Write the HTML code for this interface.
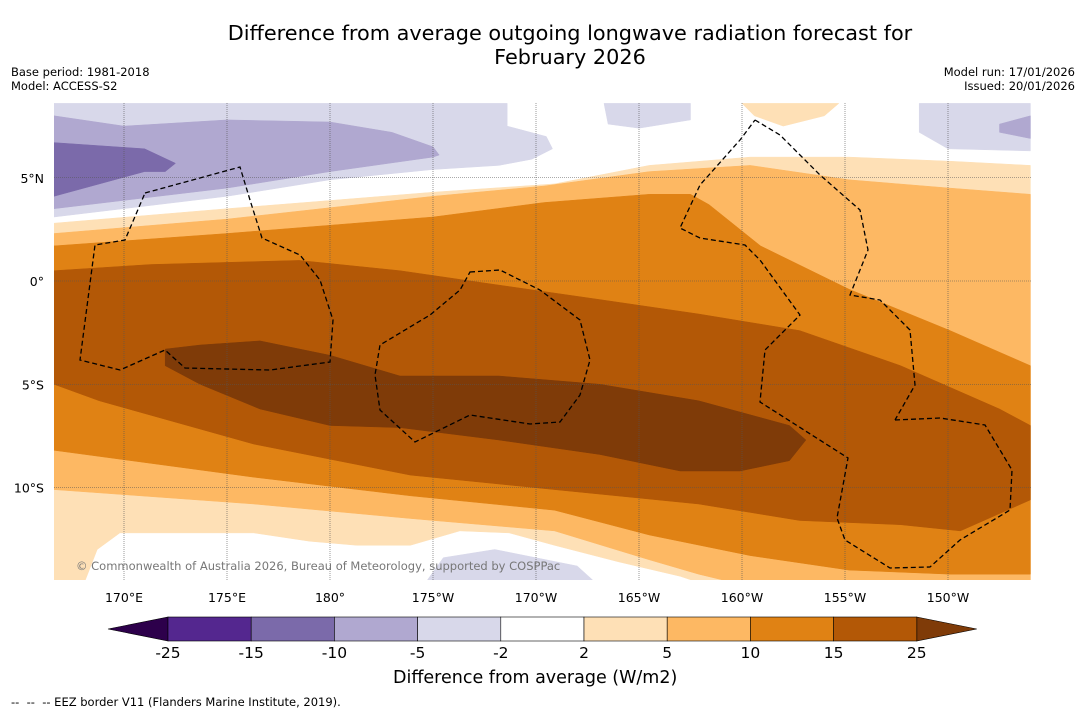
<!DOCTYPE html>
<html><head><meta charset="utf-8">
<style>
body{margin:0;background:#fff;font-family:"DejaVu Sans","Liberation Sans",sans-serif;}
#wrap{position:relative;width:1085px;height:713px;overflow:hidden;background:#fff}
.t{position:absolute;white-space:nowrap;color:#000}
svg text{font-family:"DejaVu Sans","Liberation Sans",sans-serif}
</style></head><body>
<div id="wrap">
<div class="t" style="left:0;width:1140px;top:21px;text-align:center;font-size:20.8px;line-height:24px">Difference from average outgoing longwave radiation forecast for<br>February 2026</div>
<div class="t" style="left:11px;top:65px;font-size:11.5px;line-height:14px">Base period: 1981-2018<br>Model: ACCESS-S2</div>
<div class="t" style="right:10px;top:65px;font-size:11.5px;line-height:14px;text-align:right">Model run: 17/01/2026<br>Issued: 20/01/2026</div>
<svg id="svg" width="1085" height="713" style="position:absolute;left:0;top:0"></svg>
<div class="t" style="left:393px;top:668px;font-size:17.5px">Difference from average (W/m2)</div>
<div class="t" style="left:11px;top:695px;font-size:11.5px">-- &nbsp;-- &nbsp;-- EEZ border V11 (Flanders Marine Institute, 2019).</div>
</div>
<script>
const lonTicks=[170,175,180,185,190,195,200,205,210];
const lonLabels=["170°E","175°E","180°","175°W","170°W","165°W","160°W","155°W","150°W"];
const latTicks=[5,0,-5,-10];
const latLabels=["5°N","0°","5°S","10°S"];
const levels=[-25,-15,-10,-5,-2,2,5,10,15,25];
const colors=["#54278f","#7b6aaa","#b0a8d0","#d8d8ea","#ffffff","#fee0b6","#fdb863","#e08214","#b35806"];
const extLow="#2d004b", extHigh="#7f3b08";
// contour boundaries [lon(0-360), lat]
const U2=[[166.6,2.8],[175.0,3.5],[180.0,3.9],[185.0,4.3],[190.9,4.7],[195.5,5.6],[200.4,6.0],[205.2,6.0],[210.1,5.8],[214,5.6]];
const L2=[[166.6,-14.8],[168.0,-14.8],[168.7,-13.0],[169.8,-12.2],[176.3,-12.2],[179,-12.6],[181.3,-12.8],[183.9,-12.8],[186.3,-12.1],[188.7,-12.2],[190.9,-12.8],[194,-13.6],[197,-14.3],[198.5,-14.8],[214,-14.8]];
const U5=[[166.6,2.3],[175.0,3.0],[185.0,4.1],[190.4,4.6],[195.5,5.3],[200.4,5.6],[205.2,4.9],[210.1,4.5],[214,4.2]];
const L5=[[166.6,-10.1],[176.3,-10.8],[183.9,-11.5],[190.9,-12.1],[195.5,-13.5],[197.9,-14.2],[200.4,-14.8],[214,-14.8]];
const U10=[[166.6,1.7],[175.0,2.3],[185.0,3.1],[190.4,3.8],[195.5,4.2],[197.5,4.2],[198.4,3.7],[200.9,1.7],[205.2,-0.4],[210.1,-2.4],[214,-4.1]];
const L10=[[166.6,-8.2],[176.3,-9.5],[183.9,-10.4],[190.9,-11.1],[195.5,-12.3],[200.4,-13.3],[205.2,-14.0],[210.1,-14.2],[214,-14.2]];
const U15=[[166.6,0.5],[171.3,0.8],[178.5,1.0],[183.4,0.5],[188.2,-0.2],[193.1,-0.9],[197.9,-1.6],[202.8,-2.4],[207.7,-4.1],[212.5,-6.2],[214,-7.0]];
const L15=[[166.6,-5.0],[168.8,-5.8],[176.3,-7.9],[183.9,-9.4],[190.9,-10.1],[197.9,-10.8],[202.8,-11.6],[207.7,-11.8],[210.6,-12.1],[214,-10.6]];
const C25=[[172.0,-3.3],[173.7,-3.1],[176.6,-2.9],[180.0,-3.6],[183.4,-4.6],[188.2,-4.6],[193.1,-5.0],[197.9,-5.8],[202.3,-7.0],[203.1,-7.7],[202.3,-8.7],[199.9,-9.2],[197.0,-9.2],[193.1,-8.4],[188.2,-7.7],[183.4,-7.1],[180.0,-7.0],[176.6,-6.2],[173.7,-5.0],[172.0,-4.1]];
const P2=[[166.6,8.6],[188.6,8.6],[188.6,7.5],[190.5,7.0],[190.8,6.4],[189.8,5.9],[188.2,5.6],[185.0,5.4],[180.0,4.9],[175.0,4.1],[166.6,3.1]];
const P5=[[166.6,8.0],[170,7.5],[175,7.8],[180,7.7],[183,7.2],[185,6.5],[185.3,6.1],[185,6.0],[180,5.3],[175,4.5],[166.6,3.5]];
const P10=[[166.6,6.7],[171,6.4],[172.5,5.7],[172,5.3],[171,5.3],[166.6,4.1]];
const PB1=[[193.3,8.6],[197.5,8.6],[197.5,7.8],[195,7.4],[193.5,7.6]];
const PB2=[[208.6,8.6],[214,8.6],[214,6.3],[210,6.4],[208.6,7.2]];
const PB3=[[212.5,7.6],[214,8.0],[214,6.9],[212.5,7.2]];
const PB4=[[184.5,-14.8],[193.1,-14.8],[192,-13.8],[188,-13.0],[185.5,-13.4]];
const OB1=[[200.0,8.6],[204.7,8.6],[204.0,8.0],[202,7.5],[200.6,8.0]];

const X0=54,X1=1031,Y0=103,Y1=580;
const xs=lon=>124+(lon-170)*20.6;
const ys=lat=>281-lat*20.65;
const NS="http://www.w3.org/2000/svg";
const svg=document.getElementById('svg');
function mk(tag,attrs,parent){const e=document.createElementNS(NS,tag);for(const k in attrs)e.setAttribute(k,attrs[k]);(parent||svg).appendChild(e);return e;}
const defs=mk('defs',{});
const cp=mk('clipPath',{id:'mapclip'},defs);
mk('rect',{x:X0,y:Y0,width:X1-X0,height:Y1-Y0},cp);
const g=mk('g',{'clip-path':'url(#mapclip)'});


mk('rect',{x:X0,y:Y0,width:X1-X0,height:Y1-Y0,fill:'#fff'},g);
function poly(pts,fill,name){
  const d=pts.map((p,i)=>(i?'L':'M')+xs(p[0]).toFixed(1)+','+ys(p[1]).toFixed(1)).join('')+'Z';
  const e=mk('path',{d:d,fill:fill,stroke:fill,'stroke-width':0.5,'stroke-linejoin':'round'},g);
  
  
}
const rev=a=>a.slice().reverse();
poly(U2.concat(rev(L2)),colors[5],'band-2-5');
poly(U5.concat(rev(L5)),colors[6],'band-5-10');
poly(OB1,colors[5],'band-2-5-top');
poly(U10.concat(rev(L10)),colors[7],'band-10-15');
poly(U15.concat(rev(L15)),colors[8],'band-15-25');
poly(C25,extHigh,'band-over-25');
poly(P2,colors[3],'band-neg2-neg5');
poly(P5,colors[2],'band-neg5-neg10');
poly(P10,colors[1],'band-neg10-neg15');
poly(PB1,colors[3],'band-neg2-blob-mid');
poly(PB2,colors[3],'band-neg2-blob-right');
poly(PB3,colors[2],'band-neg5-blob-right');
poly(PB4,colors[3],'band-neg2-blob-bottom');
lonTicks.forEach((l,i)=>{
  const e=mk('line',{x1:xs(l),x2:xs(l),y1:Y0,y2:Y1,stroke:'#555','stroke-width':0.6,'stroke-dasharray':'1,1'},g);
  
  
  const t=mk('text',{x:xs(l),y:602,'text-anchor':'middle','font-size':12.5});
  t.textContent=lonLabels[i];
  
  
});
latTicks.forEach((l,i)=>{
  const e=mk('line',{x1:X0,x2:X1,y1:ys(l),y2:ys(l),stroke:'#555','stroke-width':0.6,'stroke-dasharray':'1,1'},g);
  
  
  const t=mk('text',{x:44,y:ys(l)+5,'text-anchor':'end','font-size':12.5});
  t.textContent=latLabels[i];
  
  
});
const eez=["M145,193L240,167L250,200L262,238L300,255L320,280L333,320L330,362L270,370L185,368L165,350L120,370L80,360L95,245L125,240Z",
"M470,272L500,270L540,290L580,320L590,360L580,395L560,422L530,424L470,415L415,442L380,410L375,375L380,345L430,315L460,290Z",
"M755,120L780,135L820,175L860,210L868,250L850,295L880,300L910,330L915,385L895,420",
"M895,420L940,418L985,425L1012,470L1010,510L960,540L930,567L890,568L845,540L837,518L848,458L760,402L765,350L800,315L760,260L745,245L700,238L680,228L700,185L740,140L755,120"];
eez.forEach(d=>{const e=mk('path',{d:d,fill:'none',stroke:'#000','stroke-width':1.3,'stroke-dasharray':'5,3'},g);
 
 });
const cr=mk('text',{x:76,y:570,'font-size':11.5,fill:'#777'},g);
cr.textContent='© Commonwealth of Australia 2026, Bureau of Meteorology, supported by COSPPac';


const cbX0=168, cbW=83.2, cbY=617, cbH=24;
const tl=mk('polygon',{points:`108,${cbY+cbH/2} ${cbX0},${cbY} ${cbX0},${cbY+cbH}`,fill:extLow,stroke:'#000','stroke-width':0.6});


const rx=cbX0+cbW*colors.length;
const tr=mk('polygon',{points:`${rx},${cbY} ${rx+60},${cbY+cbH/2} ${rx},${cbY+cbH}`,fill:extHigh,stroke:'#000','stroke-width':0.6});


colors.forEach((c,i)=>{
  const r=mk('rect',{x:cbX0+i*cbW,y:cbY,width:cbW,height:cbH,fill:c,stroke:'#000','stroke-width':0.6});
  
  
});
levels.forEach((v,i)=>{
  const t=mk('text',{x:cbX0+i*cbW,y:658,'text-anchor':'middle','font-size':15.5});
  t.textContent=String(v);
  
  
});
</script>
</body></html>
